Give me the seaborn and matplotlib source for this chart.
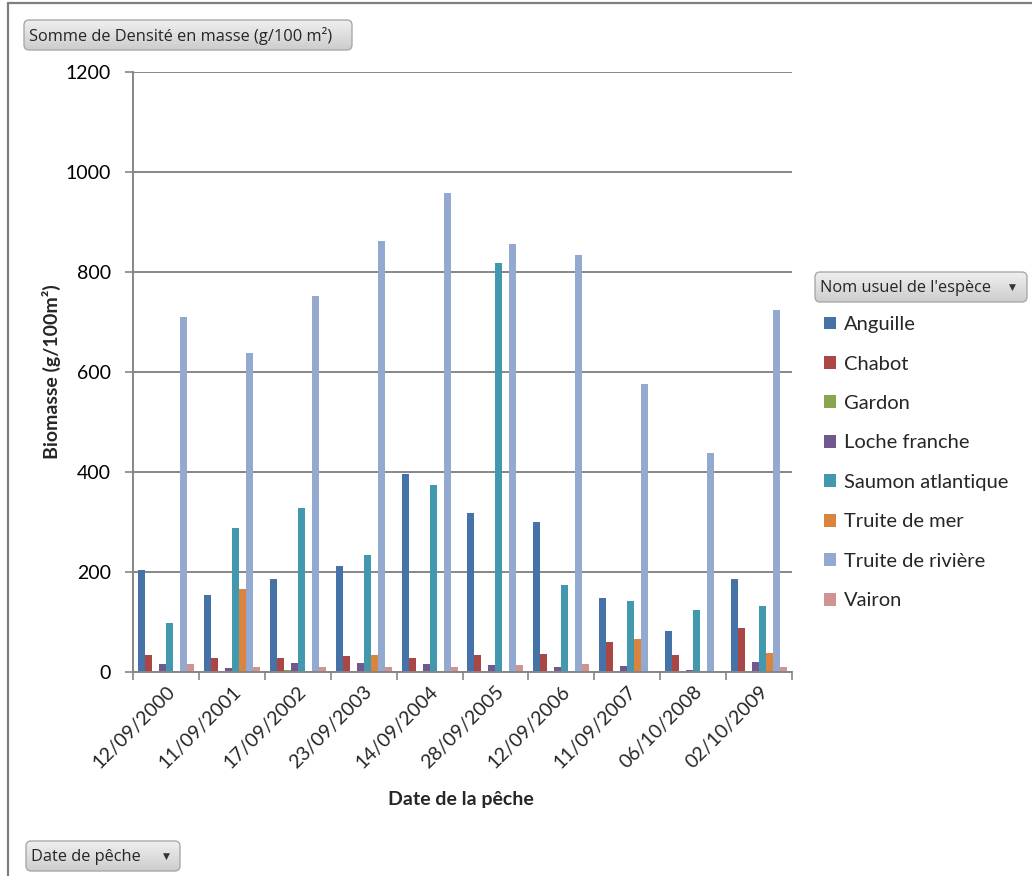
import numpy as np
import pandas as pd
import matplotlib
matplotlib.use("Agg")
import matplotlib.pyplot as plt
import seaborn as sns
from matplotlib.patches import FancyBboxPatch
from matplotlib.lines import Line2D
from matplotlib.colors import LinearSegmentedColormap

# ---------------- data ----------------
dates = ["12/09/2000", "11/09/2001", "17/09/2002", "23/09/2003", "14/09/2004",
         "28/09/2005", "12/09/2006", "11/09/2007", "06/10/2008", "02/10/2009"]
species = ["Anguille", "Chabot", "Gardon", "Loche franche", "Saumon atlantique",
           "Truite de mer", "Truite de rivière", "Vairon"]
nan = np.nan
anguille = [205, 154, 187, 213, 396, 318, 300, 148, 82, 187]
chabot = [34, 28, 28, 32, 28, 34, 36, 60, 34, 88]
gardon = [nan, nan, 4, nan, nan, nan, nan, nan, nan, nan]
loche = [17, 8, 19, 19, 17, 15, 11, 13, 5, 21]
saumon = [98, 288, 328, 235, 374, 818, 174, 142, 124, 132]
truite_mer = [nan, 166, nan, 34, nan, nan, nan, 66, nan, 38]
truite_riv = [711, 638, 752, 862, 959, 857, 834, 576, 438, 724]
vairon = [17, 11, 10, 11, 11, 15, 17, 3, 3, 11]
yticks = [0, 200, 400, 600, 800, 1000, 1200]

colors = ["#4572A7", "#AA4643", "#89A54E", "#71588F", "#4198AF",
          "#DB843D", "#93A9CF", "#D19392"]

series = [anguille, chabot, gardon, loche, saumon, truite_mer, truite_riv, vairon]
rows = []
for sp, vals in zip(species, series):
    for d, v in zip(dates, vals):
        if not np.isnan(v):
            rows.append({"date": d, "espece": sp, "valeur": v})
df = pd.DataFrame(rows)

# ---------------- figure ----------------
sns.set_style("white")
FONT = ["Lato", "DejaVu Sans"]
plt.rcParams["font.family"] = FONT

W, H = 1032, 876
fig = plt.figure(figsize=(W / 100, H / 100), dpi=100)
fig.patch.set_facecolor("white")

def fx(x):
    return x / W

def fy(y):
    return 1 - y / H

L, R, T, B = 133, 792, 72, 672
ax = fig.add_axes([fx(L), fy(B), (R - L) / W, (B - T) / H])

sns.barplot(data=df, x="date", y="valeur", hue="espece", order=dates,
            hue_order=species, palette=colors, saturation=1, width=0.85,
            errorbar=None, ax=ax, linewidth=0)

ax.set_ylim(0, 1200)
ax.set_xlim(-0.5, len(dates) - 0.5)
ax.set_yticks(yticks)
ax.set_yticklabels([str(t) for t in yticks], fontsize=14, color="black")
ax.yaxis.grid(True, color="#868686", linewidth=1.4)
ax.set_axisbelow(True)

# x ticks between categories
ax.set_xticks(range(len(dates)))
ax.set_xticklabels(dates, rotation=45, ha="right", rotation_mode="anchor",
                   fontsize=14)
ax.set_xticks(np.arange(-0.5, len(dates), 1.0), minor=True)
ax.tick_params(axis="x", which="major", length=0, pad=8)
ax.tick_params(axis="x", which="minor", length=6, width=1.2, color="#868686",
               direction="out", bottom=True)
ax.tick_params(axis="y", which="major", length=6, width=1.2, color="#868686",
               direction="out", left=True, pad=10)

for s in ["top", "right"]:
    ax.spines[s].set_visible(False)
for s in ["left", "bottom"]:
    ax.spines[s].set_color("#868686")
    ax.spines[s].set_linewidth(1.4)

ax.set_xlabel("Date de la pêche", fontsize=14, fontweight="bold")
ax.set_ylabel("Biomasse (g/100m²)", fontsize=14, fontweight="bold")
ax.xaxis.set_label_coords(0.4977, -0.213)
ax.yaxis.set_label_coords(-0.123, 0.5)
ax.xaxis.label.set_va("center")
ax.yaxis.label.set_va("center")

# legend
handles, labels = ax.get_legend_handles_labels()
ax.legend(handles, labels, loc="upper left",
          bbox_to_anchor=(fx(816), fy(308)), bbox_transform=fig.transFigure,
          frameon=False, fontsize=14.5, handlelength=0.6, handleheight=0.6,
          handletextpad=0.4, labelspacing=1.115, borderaxespad=0)

# pivot-chart buttons with vertical gradient
grad_cmap = LinearSegmentedColormap.from_list("btn", ["#cdcdcd", "#efefef"])

def button(x0, y0, x1, y1, text, arrow_x=None):
    rect = [fx(x0), fy(y1), fx(x1 - x0), (y1 - y0) / H]
    clip = FancyBboxPatch((rect[0], rect[1]), rect[2], rect[3],
                          boxstyle="round,pad=0,rounding_size=0.005",
                          mutation_aspect=W / H, transform=fig.transFigure,
                          facecolor="none", edgecolor="none")
    bax = fig.add_axes(rect, zorder=5)
    bax.axis("off")
    gradient = np.linspace(0, 1, 64).reshape(-1, 1)
    im = bax.imshow(gradient, extent=[0, 1, 0, 1], aspect="auto",
                    cmap=grad_cmap, origin="lower")
    im.set_clip_path(clip)
    edge = FancyBboxPatch((rect[0], rect[1]), rect[2], rect[3],
                          boxstyle="round,pad=0,rounding_size=0.005",
                          mutation_aspect=W / H, transform=fig.transFigure,
                          facecolor="none", edgecolor="#a9a9a9",
                          linewidth=1.0, zorder=6)
    fig.patches.append(edge)
    fig.text(fx(x0 + 5), fy((y0 + y1) / 2 + 1), text, ha="left", va="center",
             fontsize=11.8, color="#262626", family=["Open Sans", "DejaVu Sans"],
             zorder=7)
    if arrow_x is not None:
        fig.text(fx(arrow_x), fy((y0 + y1) / 2), "▼", ha="center", va="center",
                 fontsize=6.5, color="#333333", family="DejaVu Sans", zorder=7)

button(24, 20, 352, 50, "Somme de Densité en masse (g/100 m²)")
button(815, 272, 1027, 302, "Nom usuel de l'espèce", arrow_x=1012)
button(26, 841, 180, 871, "Date de pêche", arrow_x=166)

# outer frame
fig.lines.append(Line2D([fx(8), fx(8)], [fy(3), 0], transform=fig.transFigure,
                        color="#7f7f7f", linewidth=1.6))
fig.lines.append(Line2D([fx(8), 1], [fy(3), fy(3)], transform=fig.transFigure,
                        color="#7f7f7f", linewidth=1.6))

fig.savefig("out.png", dpi=100, facecolor="white")
